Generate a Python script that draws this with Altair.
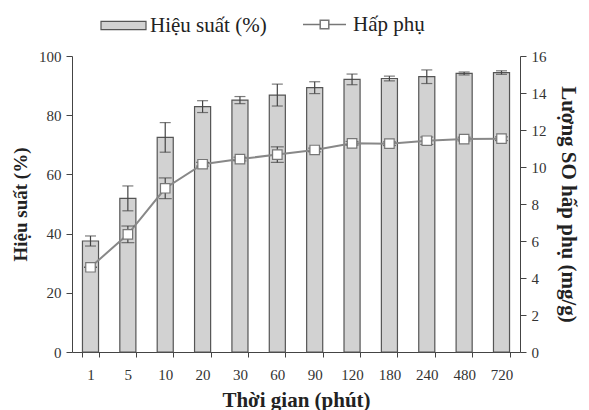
import altair as alt
import pandas as pd

times = ["1", "5", "10", "20", "30", "60", "90", "120", "180", "240", "480", "720"]
efficiency = [37.5, 51.9, 72.5, 82.9, 85.1, 86.8, 89.3, 92.1, 92.4, 93.0, 94.1, 94.4]
efficiency_err = [1.7, 4.2, 5.0, 2.0, 1.2, 3.7, 2.0, 1.8, 0.8, 2.3, 0.5, 0.6]
adsorption = [4.58, 6.36, 8.85, 10.15, 10.43, 10.67, 10.92, 11.28, 11.26, 11.42, 11.51, 11.53]
adsorption_err = [0.0, 0.45, 0.56, 0.1, 0.1, 0.42, 0.1, 0.1, 0.1, 0.2, 0.1, 0.1]

df = pd.DataFrame({
    "t": times,
    "eff": efficiency,
    "eff_lo": [v - e for v, e in zip(efficiency, efficiency_err)],
    "eff_hi": [v + e for v, e in zip(efficiency, efficiency_err)],
    "ads": adsorption,
    "ads_lo": [v - e for v, e in zip(adsorption, adsorption_err)],
    "ads_hi": [v + e for v, e in zip(adsorption, adsorption_err)],
    "s1": "Hiệu suất (%)",
    "s2": "Hấp phụ",
})

FONT = "Liberation Serif"

x = alt.X("t:N", sort=times, title="Thời gian (phút)",
          scale=alt.Scale(paddingInner=0.57, paddingOuter=0.28),
          axis=alt.Axis(labelAngle=0, tickBand="extent", labelFont=FONT, labelFontSize=15,
                        labelColor="#333", titleFont=FONT, titleFontSize=21, titleFontWeight="bold",
                        titleColor="#222", domainColor="#444", tickColor="#444", tickSize=5,
                        labelPadding=10, titlePadding=7))

yscale_l = alt.Scale(domain=[0, 100])
yscale_r = alt.Scale(domain=[0, 16])

left_axis = alt.Axis(values=[0, 20, 40, 60, 80, 100], grid=False, labelFont=FONT, labelFontSize=15,
                     labelColor="#333", titleFont=FONT, titleFontSize=19, titleFontWeight="bold",
                     titleColor="#222", domainColor="#444", tickColor="#444", tickSize=6,
                     labelPadding=5, titlePadding=8, title="Hiệu suất (%)")
right_axis = alt.Axis(orient="right", values=list(range(0, 17, 2)), grid=False, labelFont=FONT,
                      labelFontSize=15, labelColor="#333", titleFont=FONT, titleFontSize=21,
                      titleFontWeight="bold", titleColor="#222", domainColor="#444",
                      tickColor="#444", tickSize=6, labelPadding=5, titlePadding=11,
                      title="Lượng SO hấp phụ (mg/g)")

base = alt.Chart(df)

bars = base.mark_bar(stroke="#555", strokeWidth=1.2).encode(
    x=x,
    y=alt.Y("eff:Q", scale=yscale_l, axis=left_axis),
    fill=alt.Fill("s1:N", scale=alt.Scale(range=["#d2d2d2"]),
                  legend=alt.Legend(title=None, orient="none", legendX=28, legendY=-54, padding=0,
                                    symbolType="M-1,-0.18L1,-0.18L1,0.18L-1,0.18Z",
                                    symbolSize=2025, symbolStrokeColor="#555", symbolStrokeWidth=1.2,
                                    labelOffset=3)),
)
bar_rule = base.mark_rule(color="#444", strokeWidth=1.2).encode(
    x=x, y=alt.Y("eff_lo:Q", scale=yscale_l, axis=left_axis), y2="eff_hi:Q")
bar_cap_hi = base.mark_tick(color="#444", thickness=1.2, size=11).encode(
    x=x, y=alt.Y("eff_hi:Q", scale=yscale_l, axis=left_axis))
bar_cap_lo = base.mark_tick(color="#444", thickness=1.2, size=11).encode(
    x=x, y=alt.Y("eff_lo:Q", scale=yscale_l, axis=left_axis))

left = alt.layer(bars, bar_rule, bar_cap_hi, bar_cap_lo)

line = base.mark_line(color="#888", strokeWidth=2).encode(
    x=x,
    y=alt.Y("ads:Q", scale=yscale_r, axis=right_axis),
)
line_rule = base.mark_rule(color="#444", strokeWidth=1.2).encode(
    x=x, y=alt.Y("ads_lo:Q", scale=yscale_r, axis=right_axis), y2="ads_hi:Q")
line_cap_hi = base.mark_tick(color="#444", thickness=1.2, size=13).encode(
    x=x, y=alt.Y("ads_hi:Q", scale=yscale_r, axis=right_axis))
line_cap_lo = base.mark_tick(color="#444", thickness=1.2, size=13).encode(
    x=x, y=alt.Y("ads_lo:Q", scale=yscale_r, axis=right_axis))
points = base.mark_point(shape="square", filled=True, size=90, fill="white", stroke="#888",
                         strokeWidth=1.2, opacity=1).encode(
    x=x,
    y=alt.Y("ads:Q", scale=yscale_r, axis=right_axis),
    stroke=alt.Stroke("s2:N", scale=alt.Scale(range=["#777"]),
                      legend=alt.Legend(title=None, orient="none", legendX=230, legendY=-54, padding=0,
                                        symbolType="M-1,0L-0.2,0M0.2,0L1,0M-0.2,-0.2L0.2,-0.2L0.2,0.2L-0.2,0.2Z",
                                        symbolSize=1849, symbolFillColor="white", symbolStrokeWidth=1.5,
                                        labelOffset=6)),
)

right = alt.layer(line, line_rule, line_cap_hi, line_cap_lo, points)

chart = alt.layer(left, right).resolve_scale(y="independent", fill="independent", stroke="independent").properties(
    width=448, height=296,
    autosize=alt.AutoSizeParams(type="none"),
    padding={"left": 72, "top": 56, "right": 69, "bottom": 58},
    background="white",
).configure_view(stroke=None).configure_legend(
    labelFont=FONT, labelFontSize=21, labelColor="#222"
)

chart.save("out.html", embed_options={"renderer": "svg", "actions": False})
